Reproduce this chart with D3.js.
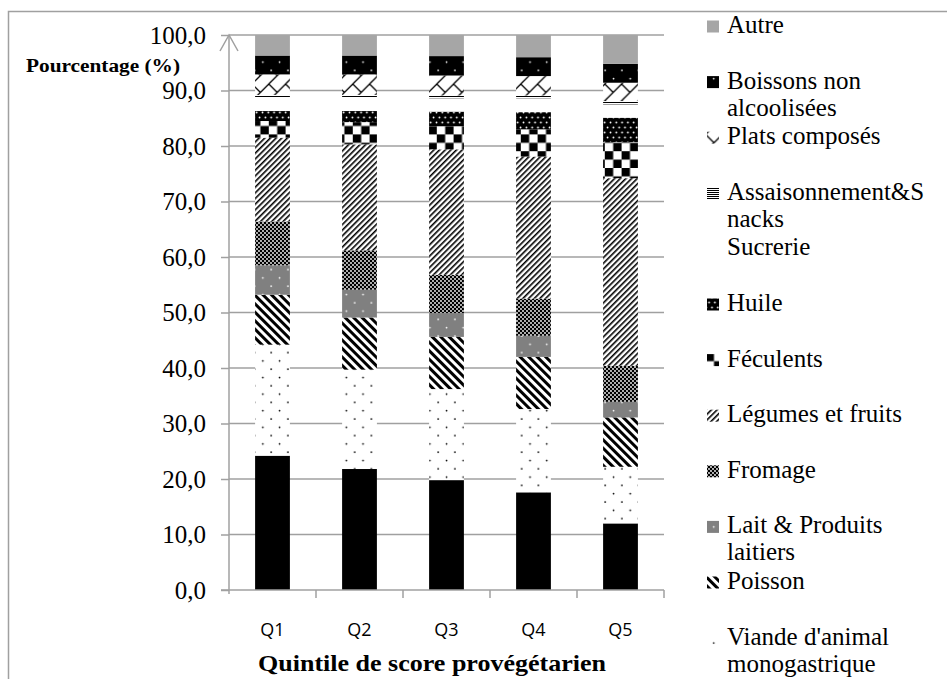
<!DOCTYPE html>
<html>
<head>
<meta charset="utf-8">
<script src="https://cdn.jsdelivr.net/npm/d3@7"></script>
<style>
	body { margin: 0; background: #fff; }
	svg { display: block; }
</style>
</head>
<body>
<svg width="947" height="679"></svg>
<script>
// categories (quintiles)
const quintiles = ['Q1', 'Q2', 'Q3', 'Q4', 'Q5'];

// series values, bottom of the stack first
const viandeRuminant = [24.2, 21.8, 19.8, 17.6, 12.0];
const viandeMono = [20.0, 17.9, 16.4, 15.0, 10.2];
const poisson = [9.0, 9.4, 9.4, 9.4, 8.9];
const lait = [5.3, 5.0, 4.3, 3.8, 2.8];
const fromage = [7.9, 7.1, 6.9, 6.7, 6.5];
const legumes = [15.1, 19.1, 22.6, 25.6, 33.8];
const feculents = [3.0, 4.0, 4.2, 4.9, 6.5];
const huile = [1.8, 2.0, 2.6, 3.1, 4.4];
const sucrerie = [2.4, 2.4, 2.4, 2.5, 2.4];
const assaisonnement = [0.5, 0.5, 0.5, 0.5, 0.6];
const plats = [3.7, 3.7, 3.6, 3.5, 3.3];
const boissons = [3.4, 3.4, 3.5, 3.4, 3.4];
const autre = [3.7, 3.7, 3.8, 4.0, 5.2];

const yTicks = [0, 10, 20, 30, 40, 50, 60, 70, 80, 90, 100];

// legend labels (already wrapped like the original)
const series = [
	{key: 'ruminant', vals: viandeRuminant, label: ['Viande de ruminant']},
	{key: 'mono', vals: viandeMono, label: ["Viande d'animal", 'monogastrique']},
	{key: 'poisson', vals: poisson, label: ['Poisson']},
	{key: 'lait', vals: lait, label: ['Lait & Produits', 'laitiers']},
	{key: 'fromage', vals: fromage, label: ['Fromage']},
	{key: 'legumes', vals: legumes, label: ['Légumes et fruits']},
	{key: 'feculents', vals: feculents, label: ['Féculents']},
	{key: 'huile', vals: huile, label: ['Huile']},
	{key: 'sucrerie', vals: sucrerie, label: ['Sucrerie']},
	{key: 'assais', vals: assaisonnement, label: ['Assaisonnement&S', 'nacks']},
	{key: 'plats', vals: plats, label: ['Plats composés']},
	{key: 'boissons', vals: boissons, label: ['Boissons non', 'alcoolisées']},
	{key: 'autre', vals: autre, label: ['Autre']}
];

const table = quintiles.map((q, i) => {
	const row = {q: q};
	series.forEach(s => row[s.key] = s.vals[i]);
	return row;
});

const svg = d3.select('svg');
const grid = '#a0a0a0';
const serif = "'Liberation Serif'";

// outer frame
svg.append('rect')
	.attr('x', 8.5).attr('y', 11.5)
	.attr('width', 1000).attr('height', 1000)
	.attr('fill', 'none')
	.attr('stroke', grid)
	.attr('stroke-width', 1.5);

// patterns
const defs = svg.append('defs');

function pat(id, w, h, rot) {
	const p = defs.append('pattern')
		.attr('id', id)
		.attr('patternUnits', 'userSpaceOnUse')
		.attr('width', w).attr('height', h);
	if (rot)
		p.attr('patternTransform', `rotate(${rot})`);
	return p;
}

function dots(id, bg, fg, r) {
	const p = pat(id, 16.7, 16.6);
	p.append('rect').attr('width', 16.7).attr('height', 16.6).attr('fill', bg);
	p.append('circle').attr('cx', 4).attr('cy', 4).attr('r', r).attr('fill', fg);
	p.append('circle').attr('cx', 12.35).attr('cy', 12.3).attr('r', r).attr('fill', fg);
}

const fills = {};

fills.ruminant = '#000';

dots('p-mono', '#fff', '#000', 0.9);
fills.mono = 'url(#p-mono)';

let p = pat('p-poisson', 6, 6, -45);
p.append('rect').attr('width', 6).attr('height', 6).attr('fill', '#fff');
p.append('rect').attr('width', 3).attr('height', 6).attr('fill', '#000');
fills.poisson = 'url(#p-poisson)';

dots('p-lait', '#808080', '#fff', 0.9);
fills.lait = 'url(#p-lait)';

p = pat('p-fromage', 4, 4);
p.append('rect').attr('width', 4).attr('height', 4).attr('fill', '#000');
p.append('circle').attr('cx', 1).attr('cy', 1).attr('r', 0.9).attr('fill', '#fff');
p.append('circle').attr('cx', 3).attr('cy', 3).attr('r', 0.9).attr('fill', '#fff');
fills.fromage = 'url(#p-fromage)';

p = pat('p-legumes', 4, 4, 45);
p.append('rect').attr('width', 4).attr('height', 4).attr('fill', '#fff');
p.append('rect').attr('width', 1.6).attr('height', 4).attr('fill', '#000');
fills.legumes = 'url(#p-legumes)';

p = pat('p-feculents', 16.8, 16.8);
p.append('rect').attr('width', 16.8).attr('height', 16.8).attr('fill', '#fff');
p.append('rect').attr('width', 8.4).attr('height', 8.4).attr('fill', '#000');
p.append('rect').attr('x', 8.4).attr('y', 8.4).attr('width', 8.4).attr('height', 8.4).attr('fill', '#000');
fills.feculents = 'url(#p-feculents)';

p = pat('p-huile', 5.8, 10);
p.append('rect').attr('width', 5.8).attr('height', 10).attr('fill', '#000');
p.append('circle').attr('cx', 1.5).attr('cy', 2.5).attr('r', 0.9).attr('fill', '#fff');
p.append('circle').attr('cx', 4.4).attr('cy', 7.5).attr('r', 0.9).attr('fill', '#fff');
fills.huile = 'url(#p-huile)';

fills.sucrerie = '#fff';

p = pat('p-assais', 4, 2);
p.append('rect').attr('width', 4).attr('height', 2).attr('fill', '#fff');
p.append('rect').attr('width', 4).attr('height', 1).attr('fill', '#000');
fills.assais = 'url(#p-assais)';

p = pat('p-plats', 16.8, 16.8);
p.append('rect').attr('width', 16.8).attr('height', 16.8).attr('fill', '#fff');
p.append('path')
	.attr('d', 'M0,16.8L16.8,0M0,0L8.4,8.4M-1,1L1,-1M15.8,17.8L17.8,15.8')
	.attr('stroke', '#000').attr('stroke-width', 1.3).attr('fill', 'none');
fills.plats = 'url(#p-plats)';

dots('p-boissons', '#000', '#fff', 0.9);
fills.boissons = 'url(#p-boissons)';

fills.autre = '#a6a6a6';

// scales
const x = d3.scaleBand()
	.domain(quintiles)
	.range([229, 664])
	.paddingInner(0.6)
	.paddingOuter(0.3);

const y = d3.scaleLinear()
	.domain([0, 100])
	.range([590, 35]);

// gridlines
svg.append('g')
	.selectAll('line')
	.data(yTicks.filter(d => d > 0))
	.join('line')
	.attr('x1', 229).attr('x2', 664)
	.attr('y1', d => y(d)).attr('y2', d => y(d))
	.attr('stroke', grid)
	.attr('stroke-width', 1.5);

// stacked bars
const stack = d3.stack().keys(series.map(s => s.key));
const layers = stack(table);

svg.append('g')
	.selectAll('g')
	.data(layers)
	.join('g')
	.attr('fill', d => fills[d.key])
	.selectAll('rect')
	.data(d => d)
	.join('rect')
	.attr('x', d => x(d.data.q))
	.attr('width', x.bandwidth())
	.attr('y', d => y(d[1]))
	.attr('height', d => y(d[0]) - y(d[1]));

// y axis: tick marks from the axis, labels drawn as top-level texts
const fmt = d => d3.format('.1f')(d).replace('.', ',');
const gY = svg.append('g')
	.attr('transform', 'translate(229,0)')
	.call(d3.axisLeft(y).tickValues(yTicks).tickSize(8).tickFormat(''));
gY.select('.domain').remove();
gY.selectAll('.tick text').remove();
gY.selectAll('.tick line').attr('stroke', grid).attr('stroke-width', 1.5);

svg.selectAll('text.ylab')
	.data(yTicks)
	.join('text')
	.attr('class', 'ylab')
	.attr('x', 206)
	.attr('y', d => y(d))
	.attr('dy', '0.34em')
	.attr('text-anchor', 'end')
	.style('font-family', serif)
	.style('font-size', '25px')
	.text(fmt);

svg.append('line')
	.attr('x1', 229).attr('x2', 229)
	.attr('y1', y(0) + 4).attr('y2', y(100))
	.attr('stroke', grid).attr('stroke-width', 1.5);
svg.append('path')
	.attr('d', `M220,${y(100) + 16}L229,${y(100)}L238,${y(100) + 16}`)
	.attr('fill', 'none')
	.attr('stroke', grid)
	.attr('stroke-width', 1.5);

// x axis
svg.append('line')
	.attr('x1', 221).attr('x2', 664)
	.attr('y1', y(0)).attr('y2', y(0))
	.attr('stroke', grid).attr('stroke-width', 1.5);

const bounds = d3.range(1, quintiles.length + 1).map(i => x.range()[0] + i * x.step());
svg.append('g')
	.selectAll('line')
	.data(bounds)
	.join('line')
	.attr('x1', d => d).attr('x2', d => d)
	.attr('y1', y(0)).attr('y2', y(0) + 8)
	.attr('stroke', grid).attr('stroke-width', 1.5);

svg.selectAll('text.xlab')
	.data(quintiles)
	.join('text')
	.attr('class', 'xlab')
	.attr('x', d => x(d) + x.bandwidth() / 2)
	.attr('y', 636)
	.attr('text-anchor', 'middle')
	.style('font-family', "'Open Sans'")
	.style('font-size', '18px')
	.text(d => d);

// axis titles
svg.append('text')
	.attr('x', 258)
	.attr('y', 671)
	.attr('textLength', 348)
	.attr('lengthAdjust', 'spacingAndGlyphs')
	.style('font-family', serif)
	.style('font-weight', 'bold')
	.style('font-size', '24px')
	.text('Quintile de score provégétarien');

svg.append('text')
	.attr('x', 26)
	.attr('y', 72)
	.attr('textLength', 154)
	.attr('lengthAdjust', 'spacingAndGlyphs')
	.style('font-family', serif)
	.style('font-weight', 'bold')
	.style('font-size', '18px')
	.text('Pourcentage (%)');

// legend, top of the stack first
const legendItems = series.slice().reverse();
const legendY = i => 33 + i * 55.6;

svg.append('g')
	.selectAll('rect')
	.data(legendItems)
	.join('rect')
	.attr('x', 707)
	.attr('y', (d, i) => legendY(i) - 12.5)
	.attr('width', 12)
	.attr('height', 12)
	.attr('fill', d => fills[d.key]);

const legendLines = legendItems.flatMap((d, i) =>
	d.label.map((t, j) => ({text: t, y: legendY(i) + j * 27})));

svg.selectAll('text.leg')
	.data(legendLines)
	.join('text')
	.attr('class', 'leg')
	.attr('x', 727)
	.attr('y', d => d.y)
	.style('font-family', serif)
	.style('font-size', '25px')
	.text(d => d.text);
</script>
</body>
</html>
